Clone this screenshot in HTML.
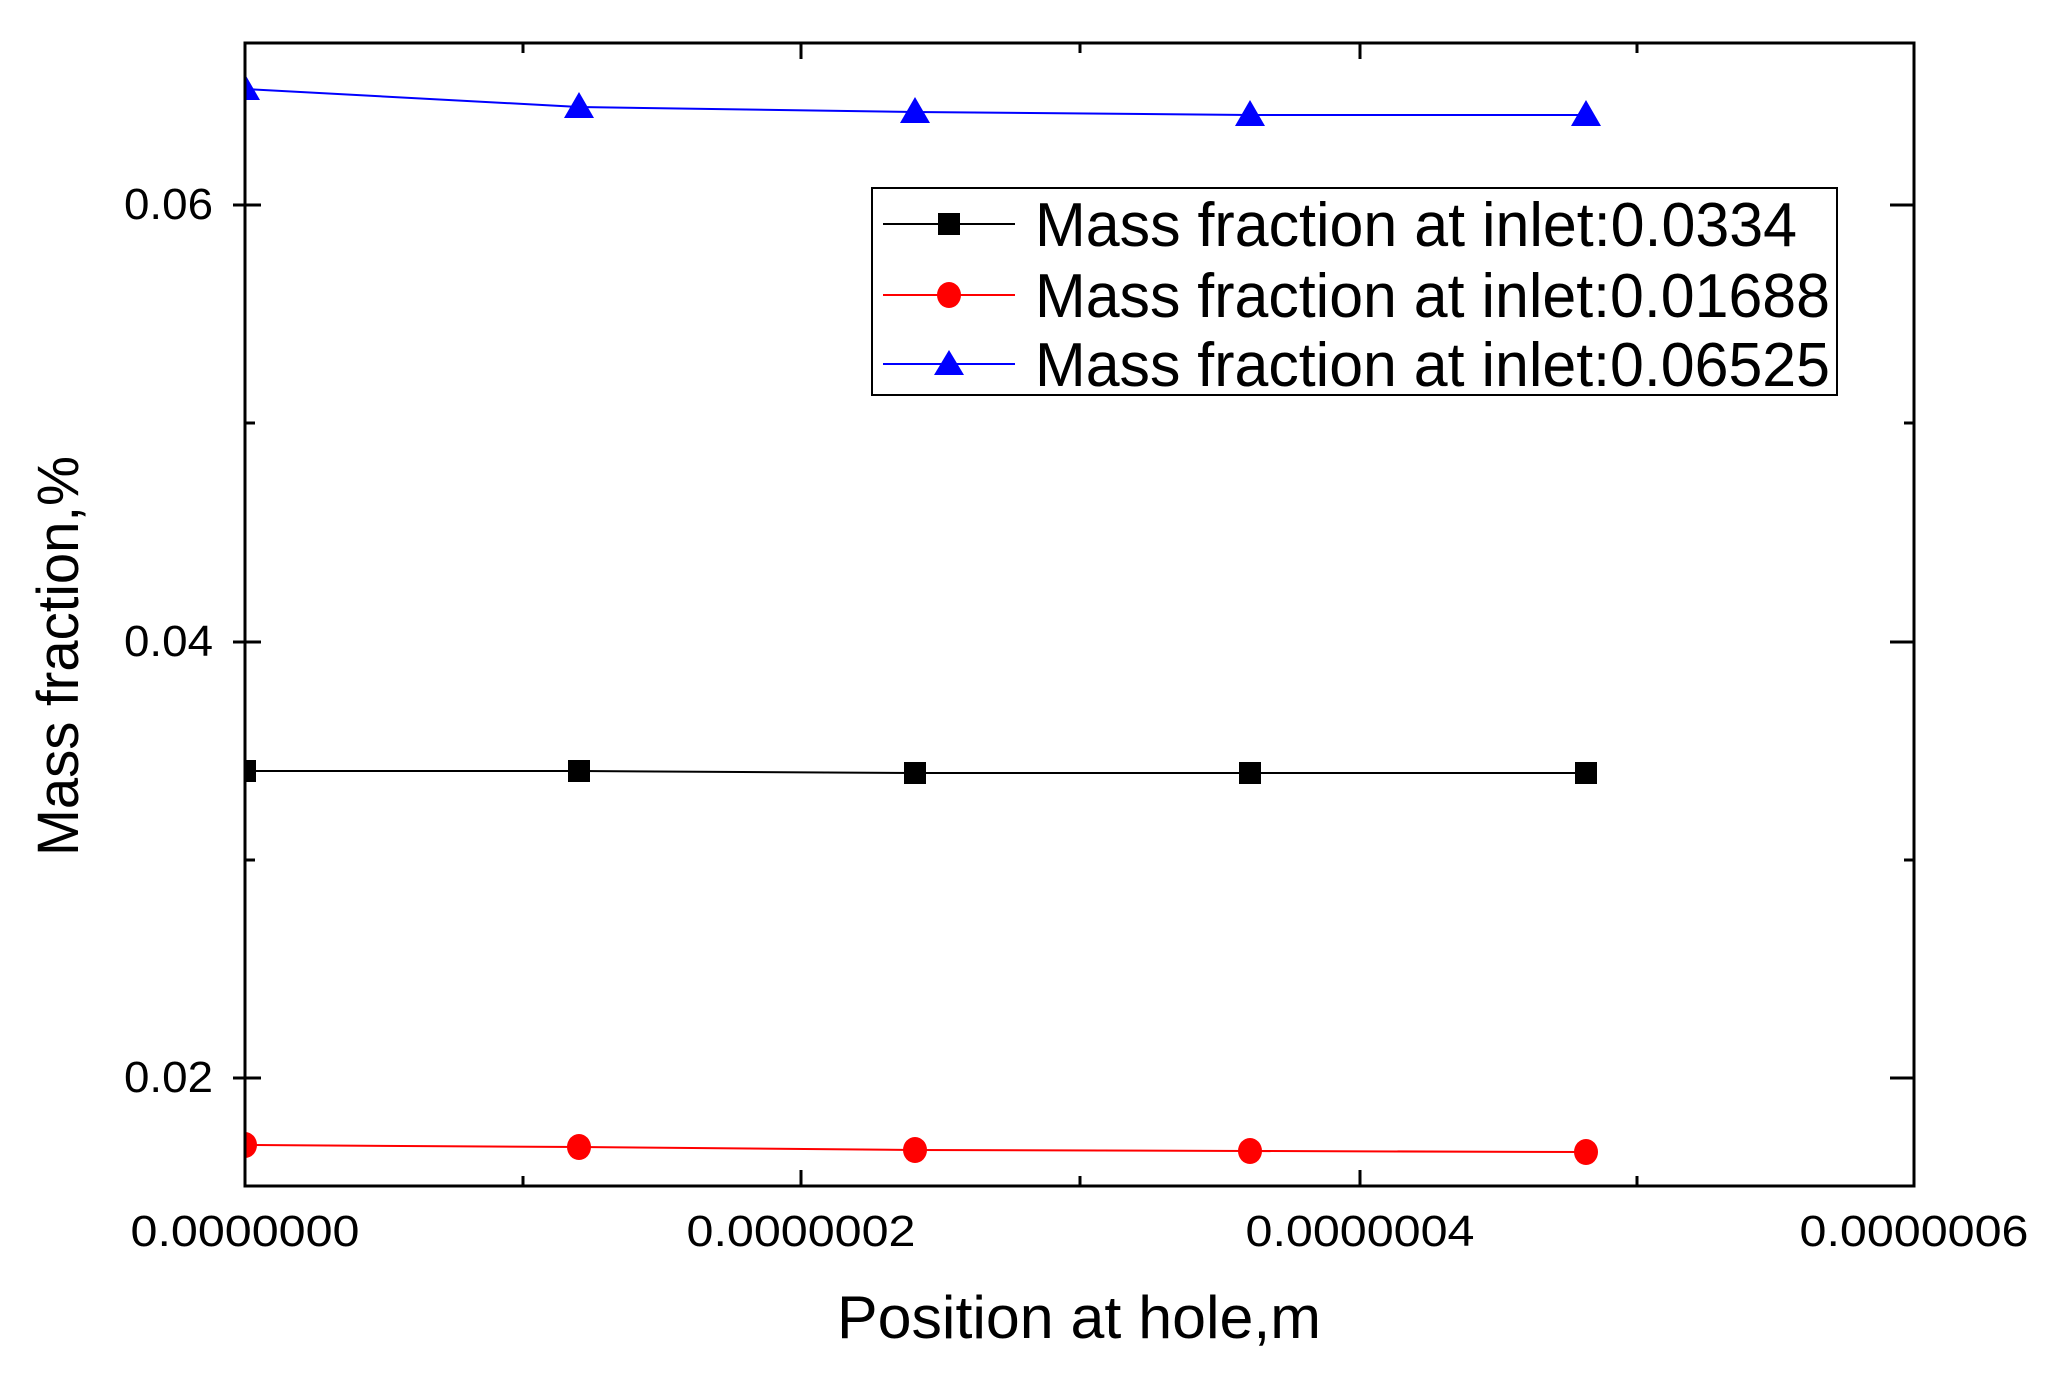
<!DOCTYPE html>
<html><head><meta charset="utf-8"><style>body{margin:0;background:#fff}</style></head><body>
<svg width="2046" height="1372" viewBox="0 0 2046 1372" xmlns="http://www.w3.org/2000/svg" font-family="Liberation Sans, Arial, sans-serif">
<defs><clipPath id="c"><rect x="245" y="0" width="1801" height="1372"/></clipPath></defs>
<rect width="2046" height="1372" fill="#fff"/>
<g clip-path="url(#c)">
<polyline points="245,89 579,107 915,112 1250,115 1586,115" fill="none" stroke="#00f" stroke-width="2"/>
<polyline points="245,771 579,771 915,773 1250,773 1586,773" fill="none" stroke="#000" stroke-width="2"/>
<polyline points="245,1145 579,1147 915,1150 1250,1151 1586,1152" fill="none" stroke="#f00" stroke-width="2"/>
<g fill="#00f">
<polygon points="245,74 260,100 230,100"/><polygon points="579,92 594,118 564,118"/><polygon points="915,97 930,123 900,123"/><polygon points="1250,100 1265,126 1235,126"/><polygon points="1586,100 1601,126 1571,126"/>
</g>
<g fill="#000">
<rect x="234" y="760" width="22" height="22"/><rect x="568" y="760" width="22" height="22"/><rect x="904" y="762" width="22" height="22"/><rect x="1239" y="762" width="22" height="22"/><rect x="1575" y="762" width="22" height="22"/>
</g>
<g fill="#f00">
<ellipse cx="245" cy="1145" rx="12" ry="13"/><ellipse cx="579" cy="1147" rx="12" ry="13"/><ellipse cx="915" cy="1150" rx="12" ry="13"/><ellipse cx="1250" cy="1151" rx="12" ry="13"/><ellipse cx="1586" cy="1152" rx="12" ry="13"/>
</g>
</g>
<rect x="245" y="43" width="1669" height="1143" fill="none" stroke="#000" stroke-width="3"/>
<g stroke="#000" stroke-width="3">
<line x1="245" y1="1186" x2="245" y2="1170"/><line x1="801" y1="1186" x2="801" y2="1170"/><line x1="1360" y1="1186" x2="1360" y2="1170"/><line x1="1914" y1="1186" x2="1914" y2="1170"/>
<line x1="801" y1="43" x2="801" y2="59"/><line x1="1360" y1="43" x2="1360" y2="59"/>
<line x1="523" y1="1186" x2="523" y2="1176"/><line x1="1080" y1="1186" x2="1080" y2="1176"/><line x1="1637" y1="1186" x2="1637" y2="1176"/>
<line x1="523" y1="43" x2="523" y2="53"/><line x1="1080" y1="43" x2="1080" y2="53"/><line x1="1637" y1="43" x2="1637" y2="53"/>
<line x1="233" y1="205" x2="261" y2="205"/><line x1="233" y1="642" x2="261" y2="642"/><line x1="233" y1="1078" x2="261" y2="1078"/>
<line x1="1890" y1="205" x2="1914" y2="205"/><line x1="1890" y1="642" x2="1914" y2="642"/><line x1="1890" y1="1078" x2="1914" y2="1078"/>
<line x1="245" y1="423" x2="255" y2="423"/><line x1="245" y1="860" x2="255" y2="860"/>
<line x1="1904" y1="423" x2="1914" y2="423"/><line x1="1904" y1="860" x2="1914" y2="860"/>
</g>
<g font-size="44" fill="#000">
<text x="213" y="219" text-anchor="end" textLength="89" lengthAdjust="spacingAndGlyphs">0.06</text>
<text x="213" y="656" text-anchor="end" textLength="89" lengthAdjust="spacingAndGlyphs">0.04</text>
<text x="213" y="1092" text-anchor="end" textLength="89" lengthAdjust="spacingAndGlyphs">0.02</text>
<text x="245" y="1246" text-anchor="middle" textLength="229" lengthAdjust="spacingAndGlyphs">0.0000000</text>
<text x="801" y="1246" text-anchor="middle" textLength="229" lengthAdjust="spacingAndGlyphs">0.0000002</text>
<text x="1360" y="1246" text-anchor="middle" textLength="229" lengthAdjust="spacingAndGlyphs">0.0000004</text>
<text x="1914" y="1246" text-anchor="middle" textLength="229" lengthAdjust="spacingAndGlyphs">0.0000006</text>
</g>
<text x="1079" y="1338" font-size="60" text-anchor="middle" textLength="484" lengthAdjust="spacingAndGlyphs">Position at hole,m</text>
<text transform="translate(78,656) rotate(-90)" font-size="58" text-anchor="middle" textLength="400" lengthAdjust="spacingAndGlyphs">Mass fraction,%</text>
<rect x="872" y="188" width="965" height="207" fill="#fff" stroke="#000" stroke-width="2"/>
<line x1="883" y1="224" x2="1015" y2="224" stroke="#000" stroke-width="2"/><rect x="938" y="213" width="22" height="22" fill="#000"/>
<line x1="883" y1="295" x2="1015" y2="295" stroke="#f00" stroke-width="2"/><ellipse cx="949" cy="295" rx="12" ry="13" fill="#f00"/>
<line x1="883" y1="364" x2="1015" y2="364" stroke="#00f" stroke-width="2"/><polygon points="949,350 964,375 934,375" fill="#00f"/>
<g font-size="62" fill="#000">
<text x="1035" y="246" textLength="762" lengthAdjust="spacingAndGlyphs">Mass fraction at inlet:0.0334</text>
<text x="1035" y="317" textLength="795" lengthAdjust="spacingAndGlyphs">Mass fraction at inlet:0.01688</text>
<text x="1035" y="386" textLength="795" lengthAdjust="spacingAndGlyphs">Mass fraction at inlet:0.06525</text>
</g>
</svg>
</body></html>
